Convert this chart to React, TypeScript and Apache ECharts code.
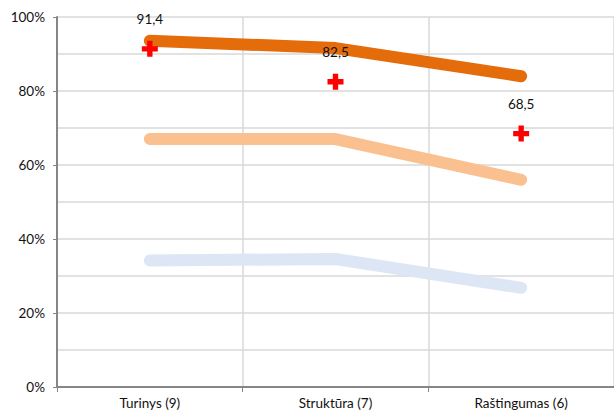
import React, { useEffect, useRef } from "react";
import * as echarts from "echarts";

const categories = ["Turinys (9)", "Struktūra (7)", "Raštingumas (6)"];
const darkOrange = [93.6, 91.6, 84.0];
const lightOrange = [67.0, 67.0, 56.0];
const lightBlue = [34.2, 34.6, 26.8];
const results = [91.4, 82.5, 68.5];

const FONT = "Lato";

export default function App() {
  const ref = useRef<HTMLDivElement>(null);
  useEffect(() => {
    document.body.style.margin = "0";
    const chart = echarts.init(ref.current!, null, { renderer: "svg" });
    const lineSeries = (data: number[], color: string, z: number) => ({
      type: "line",
      data,
      showSymbol: false,
      symbol: "none",
      z,
      lineStyle: { color, width: 12, cap: "round", join: "round" },
      emphasis: { disabled: true },
    });
    chart.setOption({
      animation: false,
      textStyle: { fontFamily: FONT },
      grid: { left: 57, right: -5, top: 17, bottom: 29 },
      xAxis: {
        type: "category",
        data: categories,
        boundaryGap: true,
        axisLine: { lineStyle: { color: "#868686", width: 2 } },
        axisTick: { show: true, length: 5, lineStyle: { color: "#868686", width: 1 } },
        axisLabel: { color: "#111", fontSize: 13.5, fontFamily: FONT, margin: 9 },
        splitLine: { show: true, lineStyle: { color: "#d9d9d9", width: 1.5 } },
      },
      yAxis: {
        type: "value",
        min: 0,
        max: 100,
        interval: 20,
        axisLine: { show: true, lineStyle: { color: "#868686", width: 2 } },
        axisTick: { show: true, length: 4, lineStyle: { color: "#868686", width: 1 } },
        axisLabel: { color: "#111", fontSize: 13.5, fontFamily: FONT, margin: 12, formatter: "{value}%" },
        splitLine: { show: true, lineStyle: { color: "#d9d9d9", width: 1.5 } },
        minorTick: { show: false, splitNumber: 2 },
        minorSplitLine: { show: true, lineStyle: { color: "#d9d9d9", width: 1.5 } },
      },
      series: [
        lineSeries(lightBlue, "#dce6f4", 2),
        lineSeries(lightOrange, "#fac090", 3),
        lineSeries(darkOrange, "#e46c0a", 4),
        {
          type: "scatter",
          data: results,
          z: 10,
          symbol: "path://M5,0 H10 V5 H15 V10 H10 V15 H5 V10 H0 V5 H5 Z",
          symbolSize: 16,
          itemStyle: { color: "#ff0000", opacity: 1 },
          label: {
            show: true,
            position: "top",
            distance: 15,
            color: "#111",
            fontSize: 13.5,
            fontFamily: FONT,
            formatter: (p: any) => String(p.value).replace(".", ","),
          },
          emphasis: { disabled: true },
        },
      ],
    });
    return () => chart.dispose();
  }, []);
  return <div ref={ref} style={{ width: 614, height: 416 }} />;
}
